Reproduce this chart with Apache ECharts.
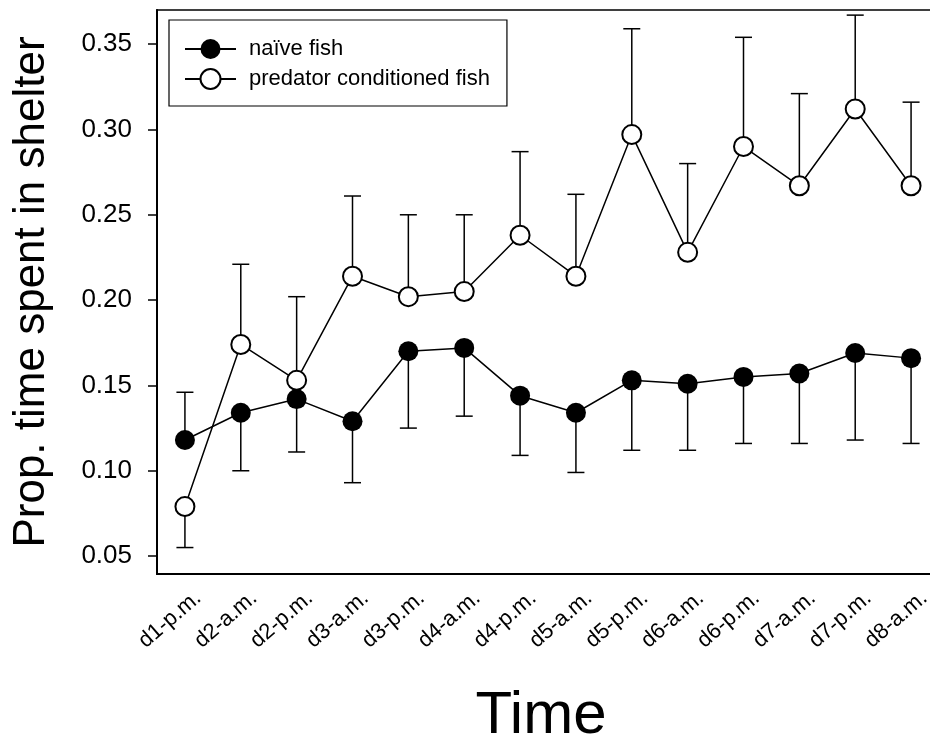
<!DOCTYPE html>
<html>
<head>
<meta charset="utf-8">
<script src="https://cdn.jsdelivr.net/npm/echarts@6/dist/echarts.min.js"></script>
<style>
  html, body { margin: 0; padding: 0; background: #fff; }
  #chart { width: 930px; height: 746px; }
</style>
</head>
<body>
<div id="chart"></div>
<script>
// time points (day / half day)
const categories = ['d1-p.m.', 'd2-a.m.', 'd2-p.m.', 'd3-a.m.', 'd3-p.m.', 'd4-a.m.', 'd4-p.m.',
  'd5-a.m.', 'd5-p.m.', 'd6-a.m.', 'd6-p.m.', 'd7-a.m.', 'd7-p.m.', 'd8-a.m.'];

// mean proportion of time in shelter
const naiveMean = [0.118, 0.134, 0.142, 0.129, 0.170, 0.172, 0.144, 0.134, 0.153, 0.151, 0.155, 0.157, 0.169, 0.166];
const predMean = [0.079, 0.174, 0.153, 0.214, 0.202, 0.205, 0.238, 0.214, 0.297, 0.228, 0.290, 0.267, 0.312, 0.267];

// end of the error bar (one-sided, away from the other group)
const naiveBarEnd = [0.146, 0.100, 0.111, 0.093, 0.125, 0.132, 0.109, 0.099, 0.112, 0.112, 0.116, 0.116, 0.118, 0.116];
const predBarEnd = [0.055, 0.221, 0.202, 0.261, 0.250, 0.250, 0.287, 0.262, 0.359, 0.280, 0.354, 0.321, 0.367, 0.316];

const yTicks = [0.05, 0.10, 0.15, 0.20, 0.25, 0.30, 0.35];

const FONT = 'Liberation Sans';

const chart = echarts.init(document.getElementById('chart'));

function errorBars(means, ends) {
  return {
    type: 'custom',
    z: 1,
    silent: true,
    encode: { x: 0, y: 1 },
    renderItem: function (params, api) {
      const p = api.coord([api.value(0), api.value(1)]);
      const e = api.coord([api.value(0), api.value(2)]);
      const half = 8.5;
      const st = { stroke: '#000', lineWidth: 1.5 };
      return {
        type: 'group',
        children: [
          { type: 'line', shape: { x1: p[0], y1: p[1], x2: e[0], y2: e[1] }, style: st },
          { type: 'line', shape: { x1: e[0] - half, y1: e[1], x2: e[0] + half, y2: e[1] }, style: st }
        ]
      };
    },
    data: means.map((m, i) => [i, m, ends[i]])
  };
}

const option = {
  animation: false,
  backgroundColor: '#fff',
  textStyle: { fontFamily: FONT },
  grid: {
    left: 157, top: 10, width: 782, bottom: 172,
    outerBoundsMode: 'none',
    containLabel: false,
    show: true, borderColor: '#000', borderWidth: 1.5
  },
  legend: {
    data: ['naïve fish', 'predator conditioned fish'],
    orient: 'vertical',
    left: 169, top: 20,
    padding: [18, 17, 16, 15],
    itemGap: 8,
    itemWidth: 51, itemHeight: 25,
    borderColor: '#000', borderWidth: 1.2,
    textStyle: { fontFamily: FONT, fontSize: 22, color: '#000', padding: [0, 0, 0, 8] }
  },
  xAxis: {
    type: 'category',
    data: categories,
    boundaryGap: true,
    name: 'Time',
    nameLocation: 'middle',
    nameGap: 112,
    nameTextStyle: { fontFamily: FONT, fontSize: 60, color: '#000', padding: [0, 14, 0, 0] },
    axisLine: { lineStyle: { color: '#000', width: 2 } },
    axisTick: { alignWithLabel: true, length: 9, lineStyle: { color: '#000', width: 1.5 } },
    axisLabel: {
      rotate: 41, interval: 0, margin: 18, fontFamily: FONT, fontSize: 22, color: '#000',
      verticalAlign: 'top', padding: [0, -8, 0, 0]
    },
    splitLine: { show: false }
  },
  yAxis: {
    type: 'value',
    min: 0.0395, max: 0.370,
    name: 'Prop. time spent in shelter',
    nameLocation: 'middle',
    nameGap: 103,
    nameTextStyle: { fontFamily: FONT, fontSize: 44, color: '#000' },
    axisLine: { show: true, lineStyle: { color: '#000', width: 2 } },
    axisTick: { show: true, customValues: yTicks, length: 9, lineStyle: { color: '#000', width: 1.5 } },
    axisLabel: {
      customValues: yTicks, margin: 25, fontFamily: FONT, fontSize: 26, color: '#000',
      formatter: v => v.toFixed(2)
    },
    splitLine: { show: false }
  },
  series: [
    errorBars(naiveMean, naiveBarEnd),
    errorBars(predMean, predBarEnd),
    {
      name: 'naïve fish',
      type: 'line',
      z: 2,
      data: naiveMean,
      symbol: 'circle',
      symbolSize: 20,
      itemStyle: { color: '#000' },
      lineStyle: { color: '#000', width: 1.5 }
    },
    {
      name: 'predator conditioned fish',
      type: 'line',
      z: 3,
      data: predMean,
      symbol: 'emptyCircle',
      symbolSize: 19,
      itemStyle: { color: '#000', borderWidth: 1.5 },
      lineStyle: { color: '#000', width: 1.5 }
    }
  ]
};

chart.setOption(option);
</script>
</body>
</html>
